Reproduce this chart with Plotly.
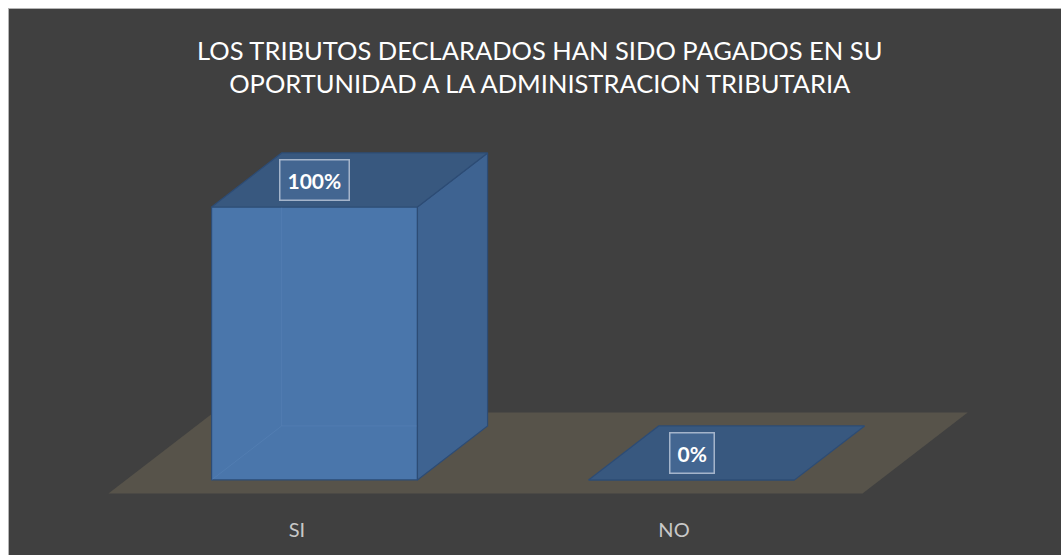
import plotly.graph_objects as go

# ---- data ----
categories = ["SI", "NO"]
values = [1.0, 0.0]            # share of answers (1.0 = 100%)
value_labels = ["100%", "0%"]
title_text = "LOS TRIBUTOS DECLARADOS HAN SIDO PAGADOS EN SU<br>OPORTUNIDAD A LA ADMINISTRACION TRIBUTARIA"

# ---- pseudo-3D geometry (in axis units) ----
BW = 0.546          # bar width (category units)
DX = 0.279          # floor depth offset in x (category units)
DY = 0.297          # floor depth offset in y (value units)
Z0, Z1 = 1 / 6, 5 / 6   # bar depth span as fraction of floor depth
dxb = DX * (Z1 - Z0)
dyb = DY * (Z1 - Z0)

BG = "#404040"
FLOOR = "#57534a"
FRONT = "#4a76ab"
TOP = "#38587f"
SIDE = "#3e6391"
EDGE = "#2d4c75"

W, H = 1053, 547
PLOT_H = 502
fig = go.Figure()

# front faces
fig.add_trace(go.Bar(
    x=list(range(len(categories))), y=values, width=BW,
    marker=dict(color=FRONT, line=dict(color=EDGE, width=1.2)),
    hoverinfo="skip", showlegend=False,
))

xs = list(range(len(categories)))
for xi, v in zip(xs, values):
    l, r = xi - BW / 2, xi + BW / 2
    if v > 0:
        # faint hidden back edges seen through the front face
        fig.add_trace(go.Scatter(
            x=[l, l + dxb, l + dxb, None, l + dxb, r + dxb],
            y=[0, dyb, v + dyb, None, dyb, dyb],
            mode="lines", line=dict(color="rgba(110,150,200,0.22)", width=1),
            hoverinfo="skip", showlegend=False))
        # side face
        fig.add_trace(go.Scatter(
            x=[r, r + dxb, r + dxb, r, r],
            y=[0, dyb, v + dyb, v, 0],
            fill="toself", fillcolor=SIDE, mode="lines",
            line=dict(color=EDGE, width=1.2),
            hoverinfo="skip", showlegend=False))
    # top face
    fig.add_trace(go.Scatter(
        x=[l, r, r + dxb, l + dxb, l],
        y=[v, v, v + dyb, v + dyb, v],
        fill="toself", fillcolor=TOP, mode="lines",
        line=dict(color=EDGE, width=1.2),
        hoverinfo="skip", showlegend=False))

# floor (below traces)
n = len(categories)
fx0, fx1 = -0.5, n - 0.5
floor_path = (
    f"M {fx0 - Z0 * DX},{-Z0 * DY} L {fx1 - Z0 * DX},{-Z0 * DY} "
    f"L {fx1 + (1 - Z0) * DX},{(1 - Z0) * DY} L {fx0 + (1 - Z0) * DX},{(1 - Z0) * DY} Z"
)
fig.add_shape(type="path", path=floor_path, xref="x", yref="y",
              fillcolor=FLOOR, line=dict(width=0), layer="below")

# data labels
for xi, v, t in zip(xs, values, value_labels):
    fig.add_annotation(
        x=xi, y=v + dyb / 2, xref="x", yref="y", text=f"<b>{t}</b>",
        showarrow=False, font=dict(family="Lato", size=21, color="white"),
        bgcolor="rgba(90,130,180,0.35)", bordercolor="rgba(200,210,225,0.75)",
        borderwidth=1.5, borderpad=7,
    )

# panel border (top and left edges visible)
fig.add_shape(type="rect", xref="paper", yref="paper",
              x0=0, x1=1.2, y0=-0.3, y1=1,
              line=dict(color="#b4b4b4", width=2), fillcolor="rgba(0,0,0,0)",
              layer="below")

fig.update_layout(
    width=W, height=H,
    margin=dict(l=0, r=0, t=0, b=H - PLOT_H),
    paper_bgcolor=BG, plot_bgcolor="rgba(0,0,0,0)",
    title=dict(text=title_text, x=0.505, xanchor="center", y=1 - 52 / H,
               yanchor="middle", yref="container",
               font=dict(family="Lato", size=25.5, color="white")),
    xaxis=dict(range=[-0.813, 1.980], tickvals=[i - Z0 * DX for i in xs],
               ticktext=categories, showgrid=False, zeroline=False,
               showline=False, ticks="", fixedrange=True, ticklabelstandoff=6,
               tickfont=dict(family="Lato", size=20, color="#c8c8c8")),
    yaxis=dict(range=[-0.110, 1.729], visible=False, fixedrange=True),
    showlegend=False,
)

fig.write_html(
    "out.html",
    post_script="document.documentElement.style.overflow='hidden';"
                "document.body.style.overflow='hidden';"
                "document.body.style.margin='8px 0 0 8px';",
)
